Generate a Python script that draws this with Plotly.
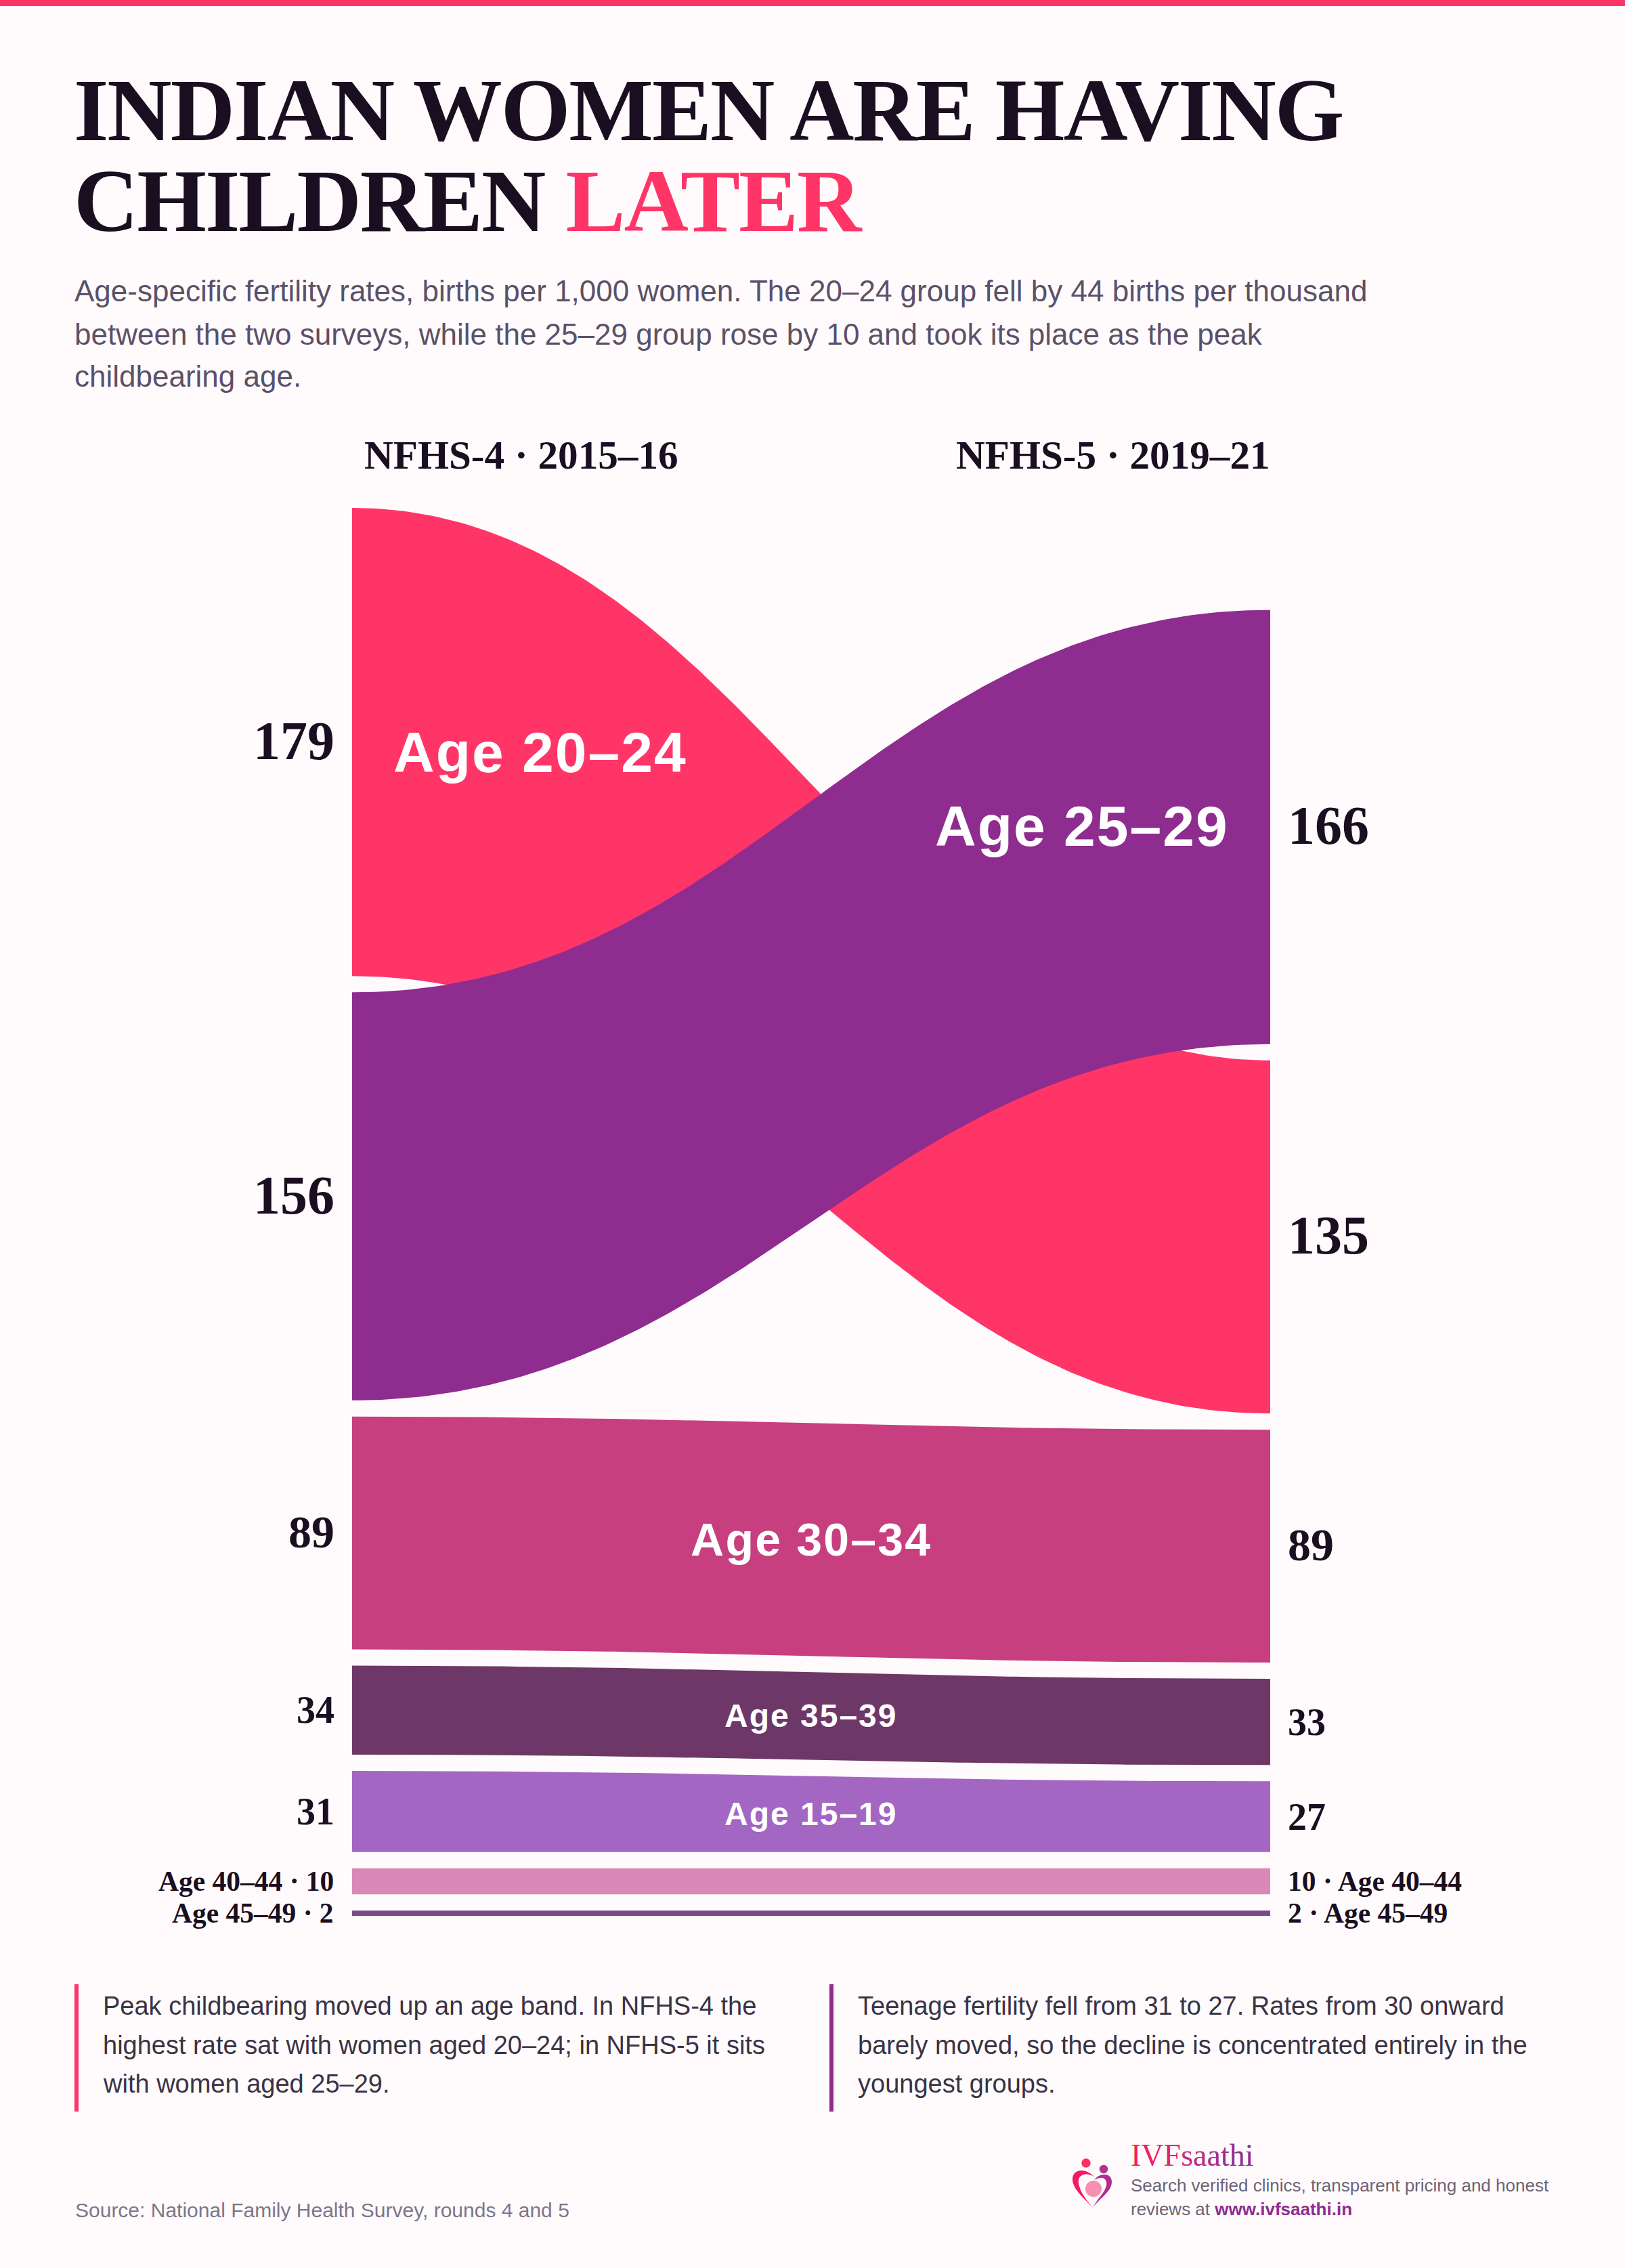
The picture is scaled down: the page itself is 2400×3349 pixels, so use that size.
import json

import numpy as np
import plotly.graph_objects as go

W, H = 2400, 3349

# age-specific fertility rates, births per 1,000 women
bands = ["Age 20–24", "Age 25–29", "Age 30–34", "Age 35–39", "Age 15–19", "Age 40–44", "Age 45–49"]
nfhs4 = [179, 156, 89, 34, 31, 10, 2]
nfhs5 = [135, 166, 89, 33, 27, 10, 2]
band_colors = ["#FF3568", "#8E2C8F", "#C73F7F", "#6D3768", "#A366C2", "#D988B8", "#7B4A88"]

title_lines = ["INDIAN WOMEN ARE HAVING", "CHILDREN <span style='color:#FF3568'>LATER</span>"]
subtitle_lines = [
    "Age-specific fertility rates, births per 1,000 women. The 20–24 group fell by 44 births per thousand",
    "between the two surveys, while the 25–29 group rose by 10 and took its place as the peak",
    "childbearing age.",
]
note_left = [
    "Peak childbearing moved up an age band. In NFHS-4 the",
    "highest rate sat with women aged 20–24; in NFHS-5 it sits",
    "with women aged 25–29.",
]
note_right = [
    "Teenage fertility fell from 31 to 27. Rates from 30 onward",
    "barely moved, so the decline is concentrated entirely in the",
    "youngest groups.",
]
brand_letters = ["I", "V", "F", "s", "a", "a", "t", "h", "i"]
brand_colors = ["#F5195F", "#EE1F66", "#E2256E", "#C92A7C", "#B52C84", "#A52D89", "#9A2D8C", "#932D8E", "#8E2C8F"]

SERIF = "Liberation Serif"
SANS = "Liberation Sans"
INK = "#1A0F20"
BG = "#FFFBFD"

# layout of the ribbon block, in page pixels
LEFT, RIGHT, TOP, BOTTOM = 520, 1876, 750, 2829
GAP = 6.214  # space between bands, in rate units
CURVE = 0.43  # control point position along the ribbon

stack_total = sum(nfhs4) + GAP * (len(nfhs4) - 1)
PX_PER_UNIT = (BOTTOM - TOP) / stack_total


def stack(values):
    # bands are stacked from the top, both columns share the same bottom
    column_total = sum(values) + GAP * (len(values) - 1)
    order = sorted(range(len(values)), key=lambda i: -values[i])
    tops, bottoms = [0] * len(values), [0] * len(values)
    y = column_total
    for i in order:
        tops[i] = y
        bottoms[i] = y - values[i]
        y = bottoms[i] - GAP
    return np.array(tops), np.array(bottoms)


def edge(y0, y1, n=160):
    # cubic bezier with flat ends
    t = np.linspace(0, 1, n)
    x = 3 * CURVE * t * (1 - t) ** 2 + 3 * (1 - CURVE) * t ** 2 * (1 - t) + t ** 3
    y = y0 + (y1 - y0) * (3 * t ** 2 - 2 * t ** 3)
    return x, y


top4, bot4 = stack(nfhs4)
top5, bot5 = stack(nfhs5)

fig = go.Figure()
for i, band in enumerate(bands):
    xu, yu = edge(top4[i], top5[i])
    xl, yl = edge(bot4[i], bot5[i])
    fig.add_trace(go.Scatter(
        x=np.concatenate([xu, xl[::-1]]),
        y=np.concatenate([yu, yl[::-1]]),
        mode="lines", fill="toself", fillcolor=band_colors[i],
        line=dict(width=0), name=band, hoverinfo="name", showlegend=False,
    ))

annotations = []
tracking = []


def add_text(text, x, baseline, size, family=SANS, color=INK, bold=False, anchor="left", track=0):
    annotations.append(dict(
        text=text, x=x / W, y=1 - (baseline - 0.3375 * size) / H,
        xref="paper", yref="paper", xanchor=anchor, yanchor="middle", align=anchor,
        showarrow=False,
        font=dict(family=family, size=size, color=color, weight=700 if bold else 400),
    ))
    tracking.append(track)


def add_band_text(text, x, y, size, family=SERIF, color=INK, anchor="left", track=0, yshift=0):
    # y is in rate units so the label follows the band
    annotations.append(dict(
        text=text, x=x / W, y=y, xref="paper", yref="y", yshift=yshift,
        xanchor=anchor, yanchor="middle", align=anchor, showarrow=False,
        font=dict(family=family, size=size, color=color, weight=700),
    ))
    tracking.append(track)


for line, base in zip(title_lines, [207, 341]):
    add_text(line, 107, base, 132, SERIF, bold=True, track=-2)
for line, base in zip(subtitle_lines, [444, 508, 570]):
    add_text(line, 108, base, 44, color="#5B5168")

add_text("NFHS-4 · 2015–16", 536, 692, 59.2, SERIF, bold=True)
add_text("NFHS-5 · 2019–21", 1878, 692, 59.2, SERIF, bold=True, anchor="right")

value_sizes = [80, 80, 68, 56, 56]
for i, size in enumerate(value_sizes):
    lift = 2 if size >= 60 else 0
    add_band_text(str(nfhs4[i]), 496, (top4[i] + bot4[i]) / 2, size, anchor="right", yshift=lift)
    add_band_text(str(nfhs5[i]), 1900, (top5[i] + bot5[i]) / 2, size, yshift=lift)
for i in [5, 6]:
    add_band_text(f"{bands[i]} · {nfhs4[i]}", 495, (top4[i] + bot4[i]) / 2, 41.5, anchor="right")
    add_band_text(f"{nfhs5[i]} · {bands[i]}", 1900, (top5[i] + bot5[i]) / 2, 41.5)

# labels inside the ribbons
add_band_text(bands[0], 798, top4[0] - 361 / PX_PER_UNIT, 84, SANS, "#FFFFFF", "center", 2.0)
add_band_text(bands[1], 1598, top5[1] - 319 / PX_PER_UNIT, 84, SANS, "#FFFFFF", "center", 2.0)
for i, size, track in [(2, 68, 2.2), (3, 48, 2.0), (4, 48, 2.0)]:
    mid = (top4[i] + bot4[i] + top5[i] + bot5[i]) / 4
    add_band_text(bands[i], 1198, mid, size, SANS, "#FFFFFF", "center", track)

for lines, x in [(note_left, 150), (note_right, 1265)]:
    for line, base in zip(lines, [2975, 3033, 3090]):
        add_text(line, x, base, 38, color="#3A3344")

add_text("Source: National Family Health Survey, rounds 4 and 5", 109, 3274, 30, color="#7D7689")

brand = "".join(f"<span style='color:{c}'>{ch}</span>" for ch, c in zip(brand_letters, brand_colors))
add_text(brand, 1668, 3198, 46, SERIF)
add_text("Search verified clinics, transparent pricing and honest", 1668, 3236, 26, color="#6B6474")
add_text("reviews at <b style='color:#8E2C8F'>www.ivfsaathi.in</b>", 1668, 3271, 26, color="#6B6474")


def px(x):
    return x / W


def py(y):
    return 1 - y / H


def page_rect(x0, y0, x1, y1, color):
    return dict(type="rect", xref="paper", yref="paper", x0=px(x0), x1=px(x1), y0=py(y0), y1=py(y1),
                fillcolor=color, line=dict(width=0), layer="above")


def page_circle(cx, cy, r, color):
    return dict(type="circle", xref="paper", yref="paper", x0=px(cx - r), x1=px(cx + r), y0=py(cy - r), y1=py(cy + r),
                fillcolor=color, line=dict(width=0), layer="above")


def page_path(commands, color):
    parts = []
    for cmd, pts in commands:
        parts.append(cmd + " ".join(f"{px(a):.6f},{py(b):.6f}" for a, b in pts))
    return dict(type="path", xref="paper", yref="paper", path=" ".join(parts) + " Z",
                fillcolor=color, line=dict(width=0), layer="above")


shapes = [
    page_rect(0, 0, W, 9, "#FF3568"),
    page_rect(110, 2930, 116, 3118, "#FF3568"),
    page_rect(1225, 2930, 1231, 3118, "#8E2C8F"),
    # logo
    page_circle(1604, 3194, 6.7, "#FF2E63"),
    page_circle(1630, 3203, 6.3, "#B0348F"),
    page_circle(1615, 3232, 12, "#F78FB0"),
    page_path([("M", [(1614, 3260)]),
               ("C", [(1600, 3245), (1584, 3232), (1584, 3218)]),
               ("C", [(1584, 3208), (1592, 3205), (1597, 3205)]),
               ("C", [(1604, 3205), (1611, 3209), (1616, 3214)]),
               ("C", [(1610, 3211), (1604, 3209), (1598, 3212)]),
               ("C", [(1592, 3215), (1592, 3222), (1594, 3228)]),
               ("C", [(1597, 3240), (1606, 3250), (1614, 3260)])], "#F5195F"),
    page_path([("M", [(1614, 3260)]),
               ("C", [(1624, 3246), (1642, 3236), (1642, 3222)]),
               ("C", [(1642, 3214), (1637, 3211), (1631, 3211)]),
               ("C", [(1625, 3211), (1620, 3214), (1616, 3219)]),
               ("C", [(1622, 3216), (1628, 3214), (1632, 3218)]),
               ("C", [(1637, 3224), (1633, 3232), (1629, 3238)]),
               ("C", [(1624, 3245), (1618, 3252), (1614, 3260)])], "#AE2F8C"),
]

fig.update_layout(
    width=W, height=H,
    margin=dict(l=0, r=0, t=0, b=0),
    paper_bgcolor=BG, plot_bgcolor=BG,
    showlegend=False,
    xaxis=dict(domain=[LEFT / W, RIGHT / W], range=[0, 1], visible=False, fixedrange=True),
    yaxis=dict(domain=[1 - BOTTOM / H, 1 - TOP / H], range=[0, stack_total], visible=False, fixedrange=True),
    annotations=annotations,
    shapes=shapes,
)

# plotly has no letter spacing on fonts, so it is set on the drawn text.
# the page margin goes too, the chart fills the whole window
page_fixes = """
document.body.style.margin = '0';
document.body.style.background = '%s';
var spacing = %s;
document.querySelectorAll('.annotation').forEach(function(a) {
    var i = +a.getAttribute('data-index');
    if (spacing[i]) { a.querySelector('text').style.letterSpacing = spacing[i] + 'px'; }
});
""" % (BG, json.dumps(tracking))

fig.write_html("out.html", post_script=page_fixes, config={"displayModeBar": False})
